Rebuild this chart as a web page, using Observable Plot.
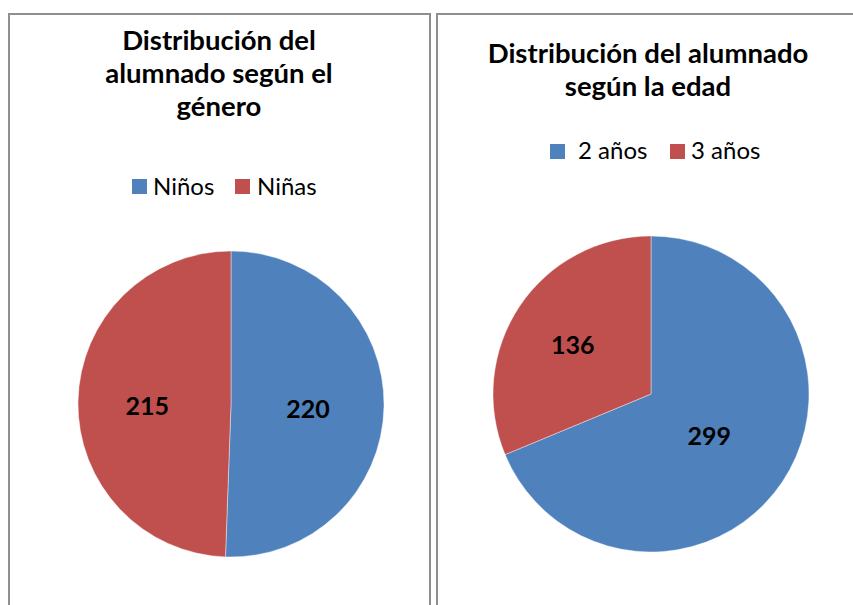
<!DOCTYPE html>
<html>
<head>
<meta charset="utf-8">
<script src="https://cdn.jsdelivr.net/npm/d3@7"></script>
<script src="https://cdn.jsdelivr.net/npm/@observablehq/plot@0.6"></script>
<style>
  html, body { margin: 0; padding: 0; background: #fff; width: 853px; height: 605px; overflow: hidden; }
  body { position: relative; font-family: Lato, "Open Sans", sans-serif; color: #000; }
  .panel { position: absolute; top: 13px; height: 640px; border: 2px solid #8f8f8f; box-sizing: border-box; background: #fff; }
  .panel svg { position: absolute; left: 0; top: 0; }
  .title { position: absolute; text-align: center; font-weight: bold; font-size: 27.5px; line-height: 33px; white-space: nowrap; }
  .sw { position: absolute; width: 15px; height: 15px; }
  .lg { position: absolute; font-size: 24px; line-height: 24px; white-space: pre; }
</style>
</head>
<body>
<script>
// ---- data ----
const generoCategorias = ["Niños", "Niñas"];
const generoValores = [220, 215];
const edadCategorias = ["2 años", "3 años"];
const edadValores = [299, 136];
const coloresSerie = ["#4F81BD", "#C0504D"];
const tituloGenero = ["Distribución del", "alumnado según el", "género"];
const tituloEdad = ["Distribución del alumnado", "según la edad"];

function pieChart({cats, vals, width, height, cx, cy, r, labelR}) {
  const color = Plot.scale({color: {type: "ordinal", domain: cats, range: coloresSerie}});
  const arcs = d3.pie().sort(null).value(d => d)(vals);
  const labels = arcs.map((a, i) => {
    const m = (a.startAngle + a.endAngle) / 2;
    return {x: labelR[i] * Math.sin(m), y: labelR[i] * Math.cos(m), text: String(vals[i])};
  });
  const slices = (index, scales) => {
    const x0 = scales.x(0), y0 = scales.y(0), rad = Math.abs(scales.x(1) - x0);
    const arc = d3.arc().innerRadius(0).outerRadius(rad);
    const g = d3.create("svg:g").attr("transform", `translate(${x0},${y0})`);
    g.selectAll("path").data(arcs).join("path")
      .attr("d", arc)
      .attr("fill", (d, i) => color.apply(cats[i]))
      .attr("stroke", "#ffffff").attr("stroke-width", 0.7).attr("stroke-opacity", 0.6);
    return g.node();
  };
  return {color, svg: Plot.plot({
    width, height, margin: 0,
    x: {domain: [-1, 1], range: [cx - r, cx + r], axis: null},
    y: {domain: [-1, 1], range: [cy + r, cy - r], axis: null},
    style: {fontFamily: "Lato, sans-serif", background: "transparent", overflow: "visible"},
    marks: [
      slices,
      Plot.text(labels, {x: "x", y: "y", text: "text", dy: 4, fontSize: 25, fontWeight: "bold", fill: "#000"})
    ]
  })};
}

function panel(left, width) {
  const d = document.createElement("div");
  d.className = "panel";
  d.style.left = left + "px";
  d.style.width = width + "px";
  document.body.appendChild(d);
  return d;
}

function title(lines, centerX, top, boxW) {
  const t = document.createElement("div");
  t.className = "title";
  t.style.left = (centerX - boxW / 2) + "px";
  t.style.width = boxW + "px";
  t.style.top = top + "px";
  t.innerHTML = lines.map(s => s.replace(/&/g, "&amp;")).join("<br>");
  document.body.appendChild(t);
}

function legend(cats, color, swX, textX, swY, textTop) {
  cats.forEach((c, i) => {
    const s = document.createElement("div");
    s.className = "sw";
    s.style.left = swX[i] + "px";
    s.style.top = swY + "px";
    s.style.background = color.apply(c);
    document.body.appendChild(s);
    const t = document.createElement("div");
    t.className = "lg";
    t.style.left = textX[i] + "px";
    t.style.top = textTop + "px";
    t.textContent = c;
    document.body.appendChild(t);
  });
}

// Left panel: género
const p1 = panel(8, 423);
const g = pieChart({cats: generoCategorias, vals: generoValores, width: 419, height: 590,
  cx: 221, cy: 389, r: 153, labelR: [0.5, 0.55]});
p1.appendChild(g.svg);
title(tituloGenero, 219, 22.5, 400);
legend(generoCategorias, g.color, [132, 235], [153, 257], 179, 174);

// Right panel: edad
const p2 = panel(436, 440);
const e = pieChart({cats: edadCategorias, vals: edadValores, width: 415, height: 590,
  cx: 213, cy: 379, r: 158, labelR: [0.44, 0.6]});
p2.appendChild(e.svg);
title(tituloEdad, 648, 36, 400);
legend(edadCategorias, e.color, [550, 670], [578, 691], 144, 138);
</script>
</body>
</html>
